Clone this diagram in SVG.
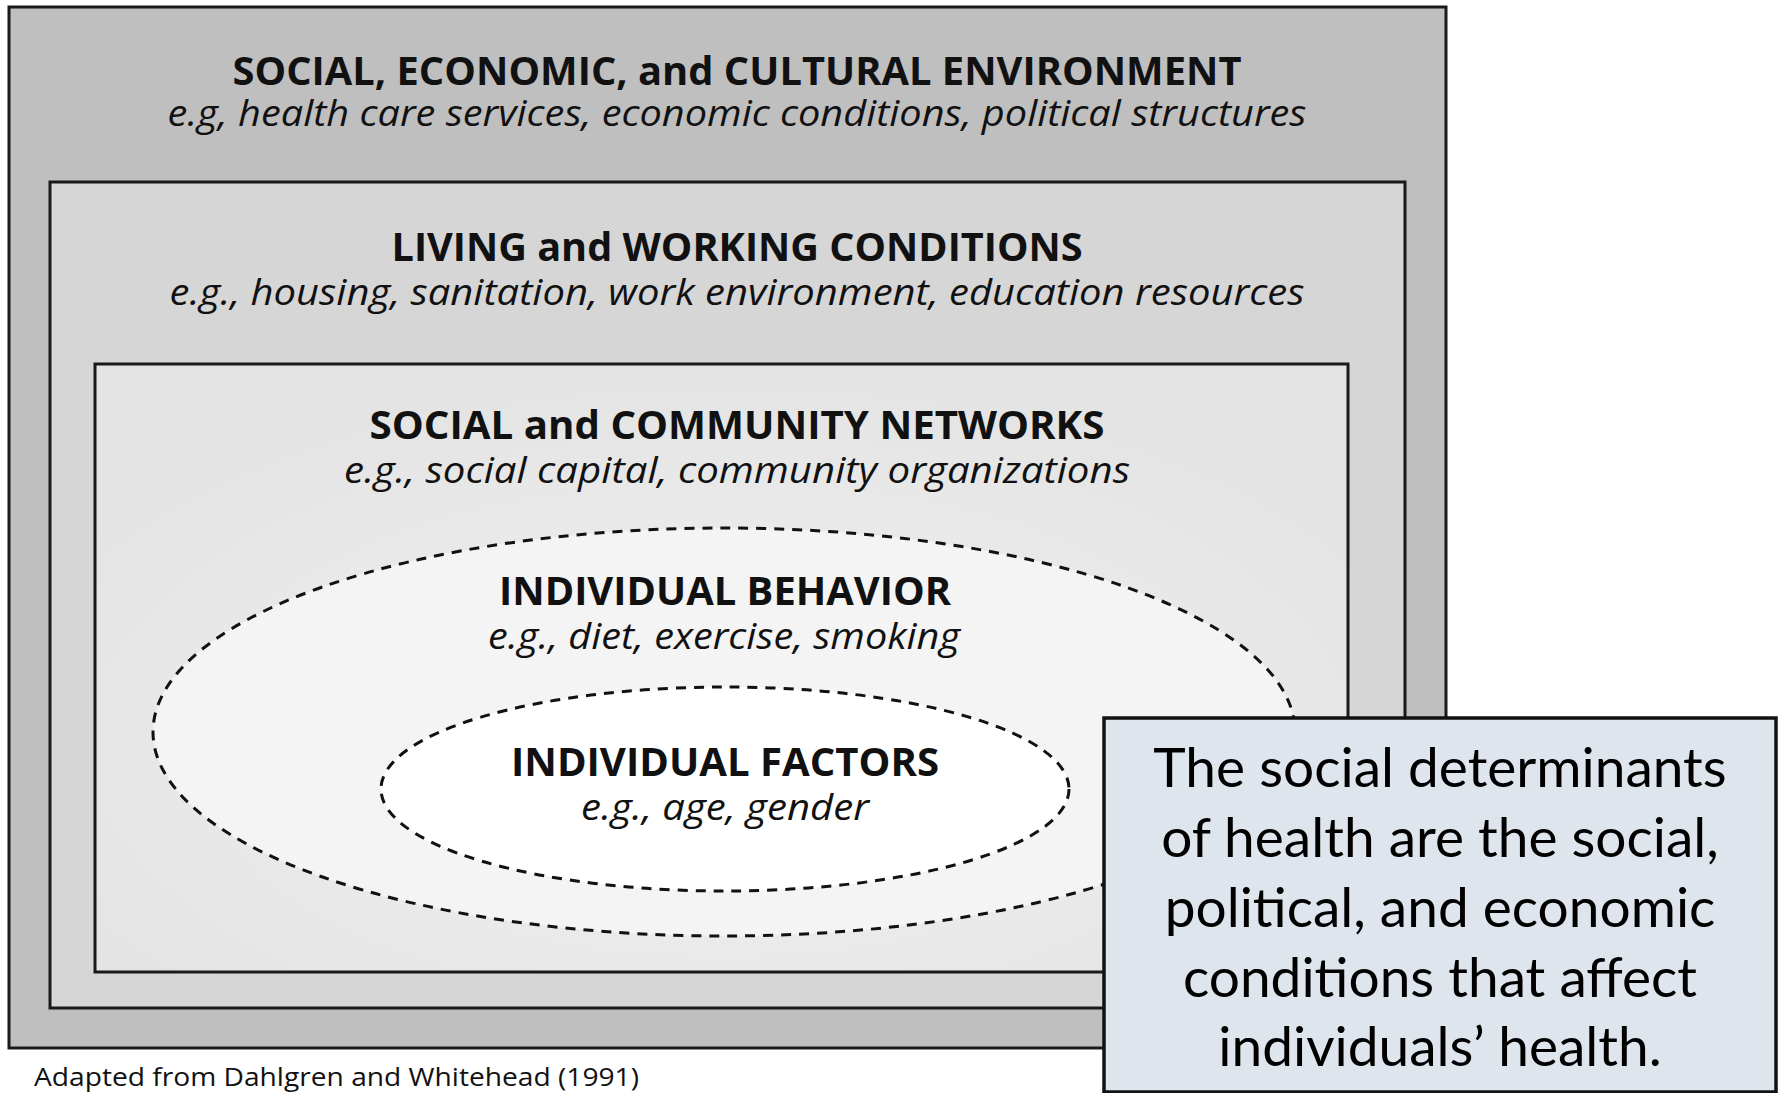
<svg xmlns="http://www.w3.org/2000/svg" width="1779" height="1093" viewBox="0 0 1779 1093">
  <style>
    .box { stroke: #1a1a1a; stroke-width: 3; }
    .ring { stroke: #111; stroke-width: 3; stroke-dasharray: 10 8; }
    .head { font-family: "Open Sans", "Noto Sans", sans-serif; font-weight: 700; font-size: 40px; fill: #111; text-anchor: middle; }
    .sub { font-family: "Open Sans", "Noto Sans", sans-serif; font-style: italic; font-size: 37px; fill: #111; text-anchor: middle; }
    .note { font-family: "Lato", "Open Sans", sans-serif; font-size: 55px; fill: #000; text-anchor: middle; }
    .credit { font-family: "Open Sans", "Noto Sans", sans-serif; font-size: 26px; fill: #111; }
  </style>
  <defs>
    <radialGradient id="commFill" cx="0.5" cy="0.62" r="0.6">
      <stop offset="0" stop-color="#f2f2f2"/>
      <stop offset="1" stop-color="#e4e4e4"/>
    </radialGradient>
  </defs>

  <rect width="1779" height="1093" fill="#ffffff"/>

  <!-- outermost layer -->
  <g id="environment">
    <rect class="box" x="9" y="7" width="1437" height="1041" fill="#bfbfbf" stroke="#111" stroke-width="3.5"/>
    <text class="head" x="737" y="85" textLength="1009" lengthAdjust="spacingAndGlyphs">SOCIAL, ECONOMIC, and CULTURAL ENVIRONMENT</text>
    <text class="sub" x="737" y="126" textLength="1139" lengthAdjust="spacingAndGlyphs">e.g, health care services, economic conditions, political structures</text>
  </g>

  <!-- living and working conditions -->
  <g id="living">
    <rect class="box" x="50" y="182" width="1355" height="826" fill="#d6d6d6"/>
    <text class="head" x="737" y="261" textLength="691" lengthAdjust="spacingAndGlyphs">LIVING and WORKING CONDITIONS</text>
    <text class="sub" x="737" y="305" textLength="1135" lengthAdjust="spacingAndGlyphs">e.g., housing, sanitation, work environment, education resources</text>
  </g>

  <!-- social and community networks -->
  <g id="community">
    <rect class="box" x="95" y="364" width="1253" height="608" fill="url(#commFill)"/>
    <text class="head" x="737" y="439" textLength="735" lengthAdjust="spacingAndGlyphs">SOCIAL and COMMUNITY NETWORKS</text>
    <text class="sub" x="737" y="483" textLength="786" lengthAdjust="spacingAndGlyphs">e.g., social capital, community organizations</text>
  </g>

  <!-- individual behaviour ring -->
  <g id="behavior">
    <ellipse class="ring" cx="724" cy="732" rx="571" ry="204" fill="#f4f4f4"/>
    <text class="head" x="725" y="605" textLength="452" lengthAdjust="spacingAndGlyphs">INDIVIDUAL BEHAVIOR</text>
    <text class="sub" x="724" y="649" textLength="472" lengthAdjust="spacingAndGlyphs">e.g., diet, exercise, smoking</text>
  </g>

  <!-- individual factors core -->
  <g id="factors">
    <ellipse class="ring" cx="725" cy="789" rx="344" ry="102" fill="#ffffff"/>
    <text class="head" x="725" y="776" textLength="428" lengthAdjust="spacingAndGlyphs">INDIVIDUAL FACTORS</text>
    <text class="sub" x="725" y="820" textLength="288" lengthAdjust="spacingAndGlyphs">e.g., age, gender</text>
  </g>

  <!-- definition callout -->
  <g id="definition">
    <rect x="1104" y="718" width="672" height="374" fill="#dee5ed" stroke="#111" stroke-width="3.5"/>
    <text class="note" x="1440" y="787">The social determinants</text>
    <text class="note" x="1440" y="857">of health are the social,</text>
    <text class="note" x="1440" y="927">political, and economic</text>
    <text class="note" x="1440" y="997">conditions that affect</text>
    <text class="note" x="1440" y="1066">individuals’ health.</text>
  </g>

  <g id="connectors"/>

  <text class="credit" x="34" y="1086" textLength="605" lengthAdjust="spacingAndGlyphs">Adapted from Dahlgren and Whitehead (1991)</text>
</svg>
